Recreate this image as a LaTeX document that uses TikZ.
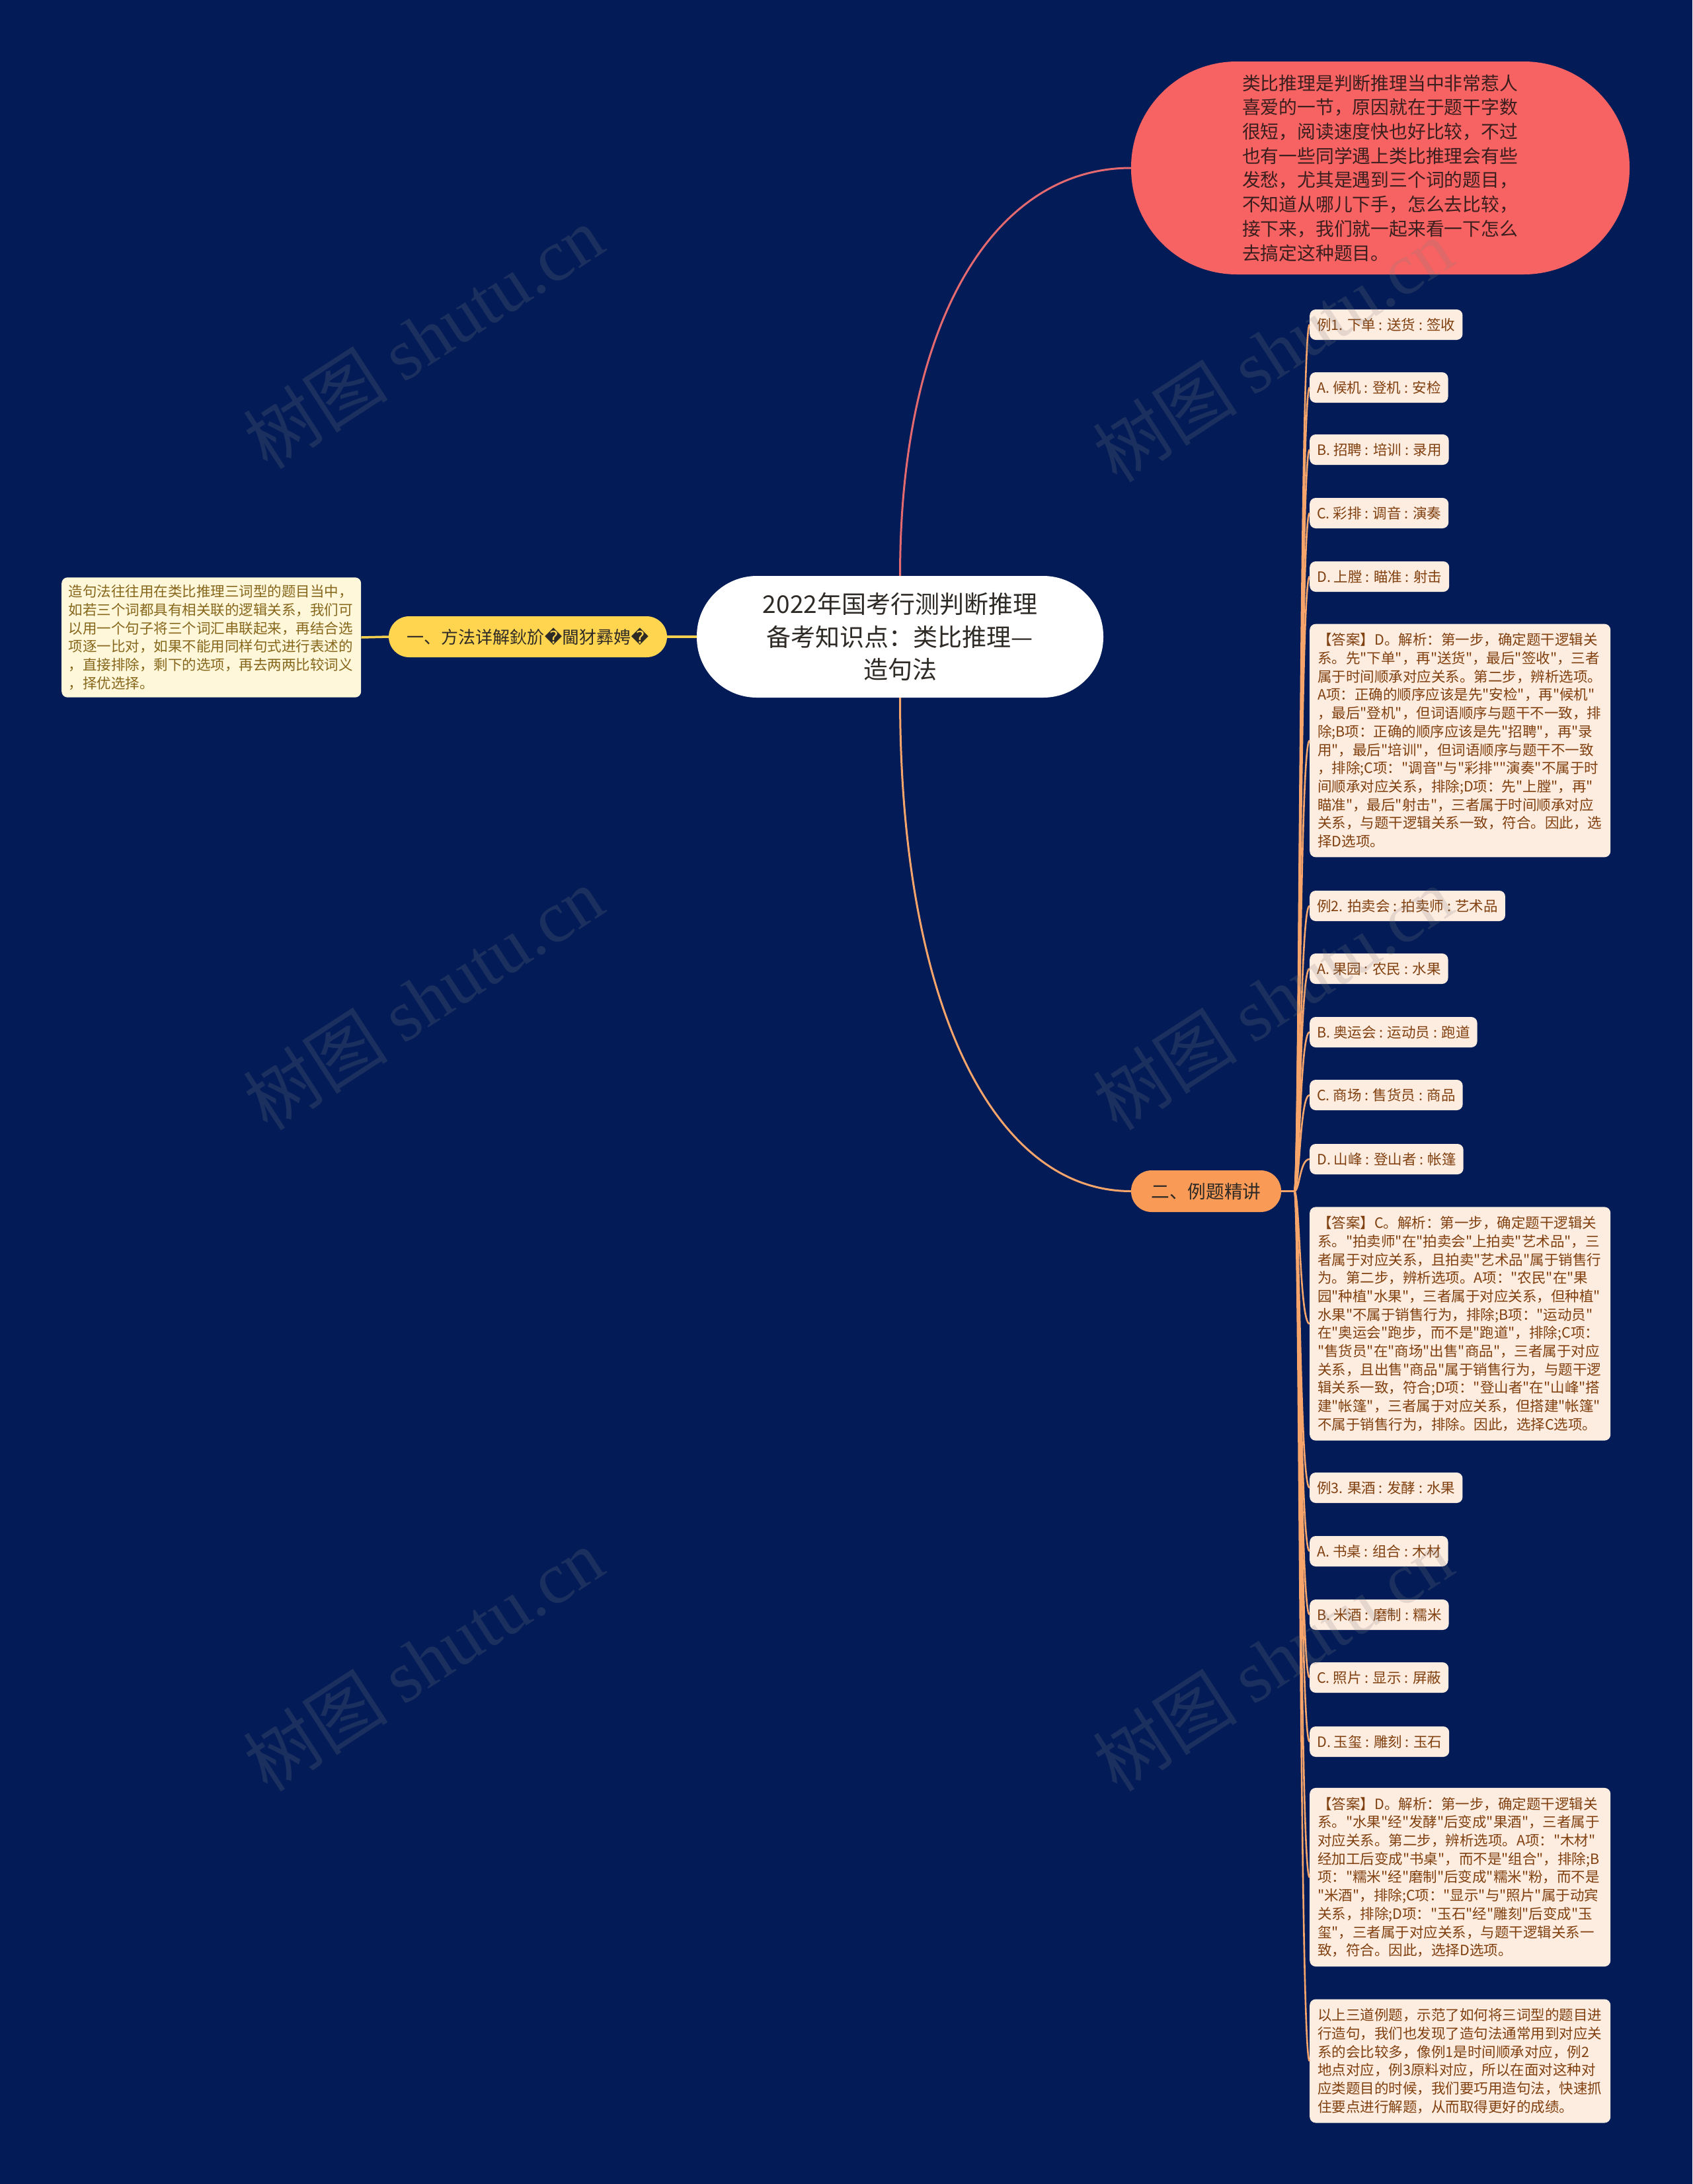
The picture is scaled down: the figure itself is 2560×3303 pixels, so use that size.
\documentclass[tikz,border=0pt]{standalone}
\usepackage{fontspec}
\setmainfont{Noto Sans CJK SC}[Ligatures=TeXOff]
\newfontfamily\wmfont{Liberation Serif}
\newfontfamily\repfont{DejaVu Sans}
\definecolor{bg}{HTML}{031C57}
\definecolor{redfill}{HTML}{F76262}
\definecolor{redtext}{HTML}{3B1E1E}
\definecolor{redline}{HTML}{E46A70}
\definecolor{yelfill}{HTML}{FFD44F}
\definecolor{yelline}{HTML}{F3D14E}
\definecolor{creamfill}{HTML}{FFF7DA}
\definecolor{creamtext}{HTML}{86671C}
\definecolor{orfill}{HTML}{F99A57}
\definecolor{orline}{HTML}{F7A56A}
\definecolor{leaffill}{HTML}{FDECE0}
\definecolor{leaftext}{HTML}{80400F}
\definecolor{darktext}{HTML}{2E2A26}
\tikzset{
  leaf/.style={fill=leaffill, text=leaftext, rounded corners=9pt, inner xsep=11pt, inner ysep=0pt,
    minimum height=46pt, anchor=west, font=\fontsize{21.5pt}{27.7pt}\selectfont},
  ans/.style={leaf, text width=431pt, align=left, inner xsep=12pt, inner ysep=14pt},
  conn/.style={draw=orline, line width=2.6pt},
  wm/.style={text=gray, text opacity=0.2, rotate=33, font=\fontsize{110pt}{120pt}\selectfont}
}
\begin{document}
\begin{tikzpicture}[x=1pt,y=-1pt]
\fill[bg] (0,0) rectangle (2560,3303);
\useasboundingbox (0,0) rectangle (2560,3303);

% main nodes
\node[fill=white, text=darktext, rounded corners=91pt, minimum width=615pt, minimum height=184pt,
  text width=450pt, align=center, font=\fontsize{37pt}{49.5pt}\selectfont] (center) at (1361.5,963)
  {2022年国考行测判断推理\\备考知识点：类比推理—\\造句法};

\node[fill=redfill, text=redtext, rounded corners=160pt, minimum width=754pt, minimum height=322pt,
  text width=418pt, align=left, font=\fontsize{27.8pt}{36.7pt}\selectfont] (red) at (2088,254)
  {类比推理是判断推理当中非常惹人\\喜爱的一节，原因就在于题干字数\\很短，阅读速度快也好比较，不过\\也有一些同学遇上类比推理会有些\\发愁，尤其是遇到三个词的题目，\\不知道从哪儿下手，怎么去比较，\\接下来，我们就一起来看一下怎么\\去搞定这种题目。};

\node[fill=yelfill, text=darktext, rounded corners=31pt, minimum width=421pt, minimum height=62pt,
  font=\fontsize{26pt}{30pt}\selectfont] (yellow) at (798.5,963)
  {一、方法详解鈥斺{\repfont �}閫犲彞娉{\repfont �}};

\node[fill=creamfill, text=creamtext, rounded corners=9pt, anchor=west, text width=432pt, align=left,
  inner xsep=10.5pt, inner ysep=11pt, font=\fontsize{21.5pt}{27.8pt}\selectfont] (left) at (93,964)
  {造句法往往用在类比推理三词型的题目当中，\\如若三个词都具有相关联的逻辑关系，我们可\\以用一个句子将三个词汇串联起来，再结合选\\项逐一比对，如果不能用同样句式进行表述的\\，直接排除，剩下的选项，再去两两比较词义\\，择优选择。};

\node[fill=orfill, text=darktext, rounded corners=31pt, minimum width=227pt, minimum height=63pt,
  font=\fontsize{27.7pt}{30pt}\selectfont] (orange) at (1824.5,1801.5) {二、例题精讲};

% leaves
\node[leaf] (l1) at (1981,491) {例1. 下单 : 送货 : 签收};
\node[leaf] (l2) at (1981,586) {A. 候机 : 登机 : 安检};
\node[leaf] (l3) at (1981,680) {B. 招聘 : 培训 : 录用};
\node[leaf] (l4) at (1981,776) {C. 彩排 : 调音 : 演奏};
\node[leaf] (l5) at (1981,872) {D. 上膛 : 瞄准 : 射击};
\node[ans] (l6) at (1981,1120) {【答案】D。解析：第一步，确定题干逻辑关\\系。先"下单"，再"送货"，最后"签收"，三者\\属于时间顺承对应关系。第二步，辨析选项。\\A项：正确的顺序应该是先"安检"，再"候机"\\，最后"登机"，但词语顺序与题干不一致，排\\除;B项：正确的顺序应该是先"招聘"，再"录\\用"，最后"培训"，但词语顺序与题干不一致\\，排除;C项："调音"与"彩排""演奏"不属于时\\间顺承对应关系，排除;D项：先"上膛"，再"\\瞄准"，最后"射击"，三者属于时间顺承对应\\关系，与题干逻辑关系一致，符合。因此，选\\择D选项。};
\node[leaf] (l7) at (1981,1370) {例2. 拍卖会 : 拍卖师 : 艺术品};
\node[leaf] (l8) at (1981,1465) {A. 果园 : 农民 : 水果};
\node[leaf] (l9) at (1981,1561) {B. 奥运会 : 运动员 : 跑道};
\node[leaf] (l10) at (1981,1656) {C. 商场 : 售货员 : 商品};
\node[leaf] (l11) at (1981,1753) {D. 山峰 : 登山者 : 帐篷};
\node[ans] (l12) at (1981,2002) {【答案】C。解析：第一步，确定题干逻辑关\\系。"拍卖师"在"拍卖会"上拍卖"艺术品"，三\\者属于对应关系，且拍卖"艺术品"属于销售行\\为。第二步，辨析选项。A项："农民"在"果\\园"种植"水果"，三者属于对应关系，但种植"\\水果"不属于销售行为，排除;B项："运动员"\\在"奥运会"跑步，而不是"跑道"，排除;C项：\\"售货员"在"商场"出售"商品"，三者属于对应\\关系，且出售"商品"属于销售行为，与题干逻\\辑关系一致，符合;D项："登山者"在"山峰"搭\\建"帐篷"，三者属于对应关系，但搭建"帐篷"\\不属于销售行为，排除。因此，选择C选项。};
\node[leaf] (l13) at (1981,2250) {例3. 果酒 : 发酵 : 水果};
\node[leaf] (l14) at (1981,2346) {A. 书桌 : 组合 : 木材};
\node[leaf] (l15) at (1981,2442) {B. 米酒 : 磨制 : 糯米};
\node[leaf] (l16) at (1981,2537) {C. 照片 : 显示 : 屏蔽};
\node[leaf] (l17) at (1981,2634) {D. 玉玺 : 雕刻 : 玉石};
\node[ans] (l18) at (1981,2839) {【答案】D。解析：第一步，确定题干逻辑关\\系。"水果"经"发酵"后变成"果酒"，三者属于\\对应关系。第二步，辨析选项。A项："木材"\\经加工后变成"书桌"，而不是"组合"，排除;B\\项："糯米"经"磨制"后变成"糯米"粉，而不是\\"米酒"，排除;C项："显示"与"照片"属于动宾\\关系，排除;D项："玉石"经"雕刻"后变成"玉\\玺"，三者属于对应关系，与题干逻辑关系一\\致，符合。因此，选择D选项。};
\node[ans] (l19) at (1981,3117) {以上三道例题，示范了如何将三词型的题目进\\行造句，我们也发现了造句法通常用到对应关\\系的会比较多，像例1是时间顺承对应，例2\\地点对应，例3原料对应，所以在面对这种对\\应类题目的时候，我们要巧用造句法，快速抓\\住要点进行解题，从而取得更好的成绩。};

% connectors
\draw[redline, line width=3pt] (center.north) .. controls +(0,-380) and +(-210,0) .. (red.west);
\draw[orline, line width=3pt] (center.south) .. controls +(0,460) and +(-210,0) .. (orange.west);
\draw[yelline, line width=3.5pt] (center.west) -- (yellow.east);
\draw[yelline, line width=3.5pt] (yellow.west) -- (left.east);
\coordinate (hub) at (1958,1801.5);
\draw[conn] (orange.east) -- (hub);
\foreach \c in {l1,l2,l3,l4,l5,l6,l7,l8,l9,l10,l11,l12,l13,l14,l15,l16,l17,l18,l19}
  \draw[conn] (hub) .. controls +(8,0) and +(-15,0) .. (\c.west);

% watermarks
\foreach \wx/\wy in {640/510, 640/1510, 640/2510, 1925/530, 1925/1510, 1925/2510}
  \node[wm] (wm\wx\wy) at (\wx,\wy) {树图 {\wmfont shutu.cn}};
\end{tikzpicture}
\end{document}
